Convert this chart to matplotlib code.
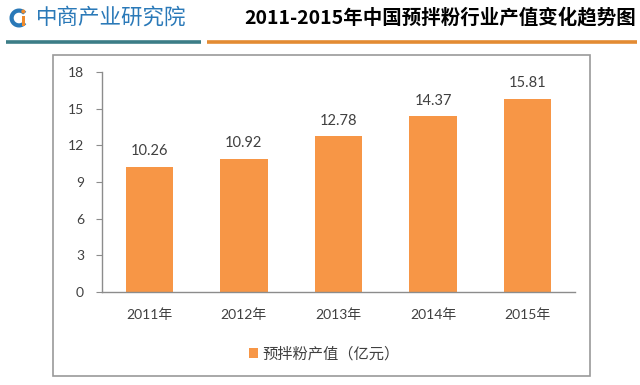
import matplotlib
matplotlib.use("Agg")
import matplotlib.pyplot as plt
from matplotlib.patches import Rectangle, Wedge, Circle

plt.rcParams['font.family'] = ['Lato', 'Noto Sans CJK SC', 'DejaVu Sans']

categories = ["2011年", "2012年", "2013年", "2014年", "2015年"]
values = [10.26, 10.92, 12.78, 14.37, 15.81]
yticks = [0, 3, 6, 9, 12, 15, 18]
series_name = "预拌粉产值（亿元）"
title = "2011-2015年中国预拌粉行业产值变化趋势图"
logo_text = "中商产业研究院"

W, H = 640, 385
fig = plt.figure(figsize=(W / 100, H / 100), dpi=100)

# overlay in pixel coordinates
ov = fig.add_axes([0, 0, 1, 1])
ov.set_xlim(0, W)
ov.set_ylim(H, 0)
ov.set_aspect('auto')
ov.axis('off')

# chart border
ov.add_patch(Rectangle((53, 55), 537, 321, fill=False, edgecolor='#9a9a9a', lw=1.2))
# header lines
ov.plot([6, 201], [41.5, 41.5], color='#3c7d87', lw=2.6, solid_capstyle='butt')
ov.plot([207, 637], [41.5, 41.5], color='#e38b33', lw=2.6, solid_capstyle='butt')

# logo icon
ov.add_patch(Wedge((19, 18), 9.5, 40, 320, width=4.2, facecolor='#2a79b8', edgecolor='none'))
ov.add_patch(Rectangle((21.5, 16), 3.6, 10, facecolor='#ef8a2c', edgecolor='none'))
ov.add_patch(Circle((23.3, 11.5), 2.0, facecolor='#ef8a2c', edgecolor='none'))
ov.text(36, 18, logo_text, fontsize=15.5, color='#2a79b8', va='center', ha='left',
        family=['Noto Sans CJK SC'])

ov.text(636, 17, title, fontsize=14, fontweight='bold', color='#000000', va='center', ha='right',
        family=['Noto Sans CJK SC'])

# main chart axes
ax = fig.add_axes([102 / W, (H - 292) / H, 473 / W, 220 / H])
x = list(range(len(categories)))
bars = ax.bar(x, values, width=0.5, color='#f79646', label=series_name, zorder=2)
ax.set_xlim(-0.5, len(categories) - 0.5)
ax.set_ylim(0, 18)
ax.set_yticks(yticks)
ax.set_xticks(x)
ax.set_xticklabels(categories)
for s in ['top', 'right']:
    ax.spines[s].set_visible(False)
for s in ['left', 'bottom']:
    ax.spines[s].set_color('#8c8c8c')
    ax.spines[s].set_linewidth(1.0)
ax.tick_params(axis='y', length=4, color='#8c8c8c', pad=9, labelsize=10, labelcolor='#404040')
ax.tick_params(axis='x', length=0, pad=12, labelsize=10, labelcolor='#404040')
ax.patch.set_alpha(0)

for xi, v in zip(x, values):
    ax.annotate(f"{v:.2f}", (xi, v), xytext=(0, 11), textcoords='offset points',
                ha='center', va='center', fontsize=10.5, color='#404040')

leg = fig.legend(handles=[bars], labels=[series_name], loc='center',
                 bbox_to_anchor=(324 / W, (H - 354) / H), frameon=False,
                 fontsize=11, handlelength=0.6, handleheight=0.6, handletextpad=0.3,
                 labelcolor='#404040')

fig.savefig("out.png", dpi=100)
